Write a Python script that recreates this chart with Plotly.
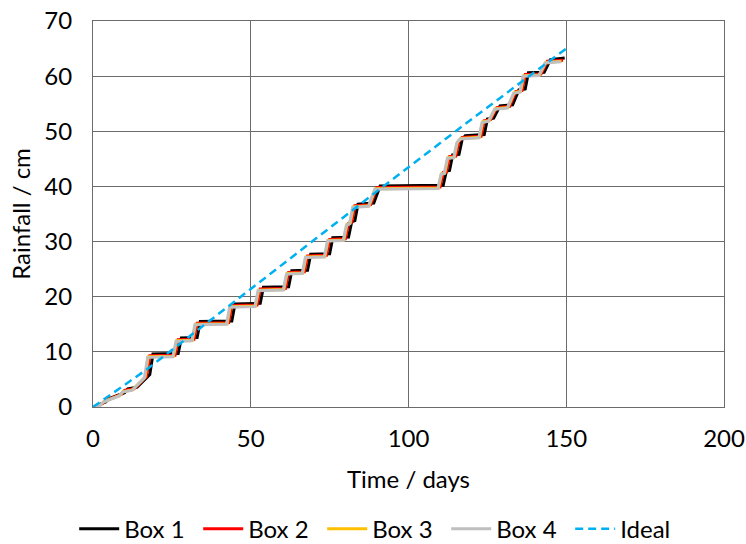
import plotly.graph_objects as go

# Box 2 (red) staircase
box2_days = [0, 3, 4, 9, 10, 13, 16, 17, 18, 26, 27, 32, 33, 43, 44, 52, 53, 61, 62, 67, 68, 74, 75, 80, 81, 82, 83, 88, 90,
             110, 111, 112, 113, 115, 116, 117, 123, 124, 126, 128, 132, 134, 136, 137, 142, 144, 149]
box2_rain = [0.0, 0.6, 1.2, 2.3, 3.0, 3.3, 5.0, 5.6, 9.3, 9.4, 12.2, 12.3, 15.2, 15.3, 18.4, 18.5, 21.4, 21.5, 24.4, 24.5, 27.4, 27.5, 30.4, 30.5, 33.3, 33.5, 36.5, 36.7, 39.8,
             39.9, 42.5, 42.6, 45.4, 45.5, 48.2, 48.9, 49.1, 51.9, 52.1, 54.3, 54.5, 57.2, 57.4, 60.3, 60.4, 62.7, 62.9]

# Box 1 (black) staircase
box1_days = [0, 4, 5, 10, 11, 14, 17, 18, 19, 27, 28, 33, 34, 44, 45, 53, 54, 62, 63, 68, 69, 75, 76, 81, 82, 83, 84, 89, 91,
             111, 112, 113, 114, 116, 117, 118, 124, 125, 127, 129, 133, 135, 137, 138, 143, 145, 149.5]
box1_rain = [0.0, 0.9, 1.5, 2.6, 3.3, 3.6, 5.3, 5.9, 9.6, 9.7, 12.5, 12.6, 15.5, 15.6, 18.7, 18.8, 21.7, 21.8, 24.7, 24.8, 27.7, 27.8, 30.7, 30.8, 33.6, 33.8, 36.8, 37.0, 40.1,
             40.2, 42.8, 42.9, 45.7, 45.8, 48.5, 49.2, 49.4, 52.2, 52.4, 54.6, 54.8, 57.5, 57.7, 60.6, 60.7, 63.0, 63.3]

# Box 3 (yellow) staircase
box3_days = [0, 2.5, 3.5, 8.5, 9.5, 12.5, 15.5, 16.5, 17.5, 25.5, 26.5, 31.5, 32.5, 42.5, 43.5, 51.5, 52.5, 60.5, 61.5, 66.5, 67.5, 73.5, 74.5, 79.5, 80.5, 81.5, 82.5, 87.5, 89.5,
             109.5, 110.5, 111.5, 112.5, 114.5, 115.5, 116.5, 122.5, 123.5, 125.5, 127.5, 131.5, 133.5, 135.5, 136.5, 141.5, 143.5, 148.5]
box3_rain = [0.0, 0.4, 1.0, 2.1, 2.8, 3.1, 4.8, 5.4, 9.1, 9.2, 12.0, 12.1, 15.0, 15.1, 18.2, 18.3, 21.2, 21.3, 24.2, 24.3, 27.2, 27.3, 30.2, 30.3, 33.1, 33.3, 36.3, 36.5, 39.6,
             39.7, 42.3, 42.4, 45.2, 45.3, 48.0, 48.7, 48.9, 51.7, 51.9, 54.1, 54.3, 57.0, 57.2, 60.1, 60.2, 62.5, 62.7]

# Box 4 (grey) staircase
box4_days = [0, 2.3, 3.3, 8.3, 9.3, 12.3, 15.3, 16.3, 17.3, 25.3, 26.3, 31.3, 32.3, 42.3, 43.3, 51.3, 52.3, 60.3, 61.3, 66.3, 67.3, 73.3, 74.3, 79.3, 80.3, 81.3, 82.3, 87.3, 89.3,
             109.3, 110.3, 111.3, 112.3, 114.3, 115.3, 116.3, 122.3, 123.3, 125.3, 127.3, 131.3, 133.3, 135.3, 136.3, 141.3, 143.3, 148.3]
box4_rain = [0.0, 0.3, 0.9, 2.0, 2.7, 3.0, 4.7, 5.3, 9.0, 9.1, 11.9, 12.0, 14.9, 15.0, 18.1, 18.2, 21.1, 21.2, 24.1, 24.2, 27.1, 27.2, 30.1, 30.2, 33.0, 33.2, 36.2, 36.4, 39.5,
             39.6, 42.2, 42.3, 45.1, 45.2, 47.9, 48.6, 48.8, 51.6, 51.8, 54.0, 54.2, 56.9, 57.1, 60.0, 60.1, 62.4, 62.6]

# Ideal
ideal_days = [0, 17, 50, 92, 120, 150]
ideal_rain = [0.0, 6.8, 21.4, 40.0, 52.2, 65.0]

series = [
    ("Box 1", box1_days, box1_rain, "#000000", 3, "solid"),
    ("Box 2", box2_days, box2_rain, "#FF0000", 3, "solid"),
    ("Box 3", box3_days, box3_rain, "#FFC000", 3, "solid"),
    ("Box 4", box4_days, box4_rain, "#BFBFBF", 3, "solid"),
    ("Ideal", ideal_days, ideal_rain, "#00B0F0", 2.5, "8px,5px"),
]

font = "Lato, 'Open Sans', sans-serif"
FS = 24
fig = go.Figure()
for name, xs, ys, col, w, dash in series:
    fig.add_trace(go.Scatter(x=xs, y=ys, mode="lines", name=name,
                             line=dict(color=col, width=w, dash=dash)))

axis_common = dict(showgrid=True, gridcolor="#6b6b6b", gridwidth=1,
                   showline=True, linecolor="#6b6b6b", linewidth=1, mirror=True,
                   zeroline=False, ticks="", automargin=False,
                   tickfont=dict(size=FS, color="#000000", family=font))
fig.update_xaxes(range=[0, 200], tickvals=[0, 50, 100, 150, 200], ticklabelstandoff=10,
                 title=dict(text="Time / days", font=dict(size=FS, color="#000000", family=font), standoff=20),
                 **axis_common)
fig.update_yaxes(range=[0, 70], tickvals=[0, 10, 20, 30, 40, 50, 60, 70], ticklabelstandoff=15,
                 title=dict(text="Rainfall / cm", font=dict(size=FS, color="#000000", family=font), standoff=6),
                 **axis_common)
fig.update_layout(
    width=746, height=544,
    margin=dict(l=93, r=22, t=21, b=137, autoexpand=False),
    paper_bgcolor="white", plot_bgcolor="white",
    showlegend=True,
    legend=dict(orientation="h", x=0.515, xanchor="center", xref="container",
                y=-0.258, yanchor="top", yref="paper",
                font=dict(size=FS, color="#000000", family=font),
                itemwidth=40, entrywidth=69, entrywidthmode="pixels"),
    font=dict(family=font),
)
fig.write_html("out.html")
